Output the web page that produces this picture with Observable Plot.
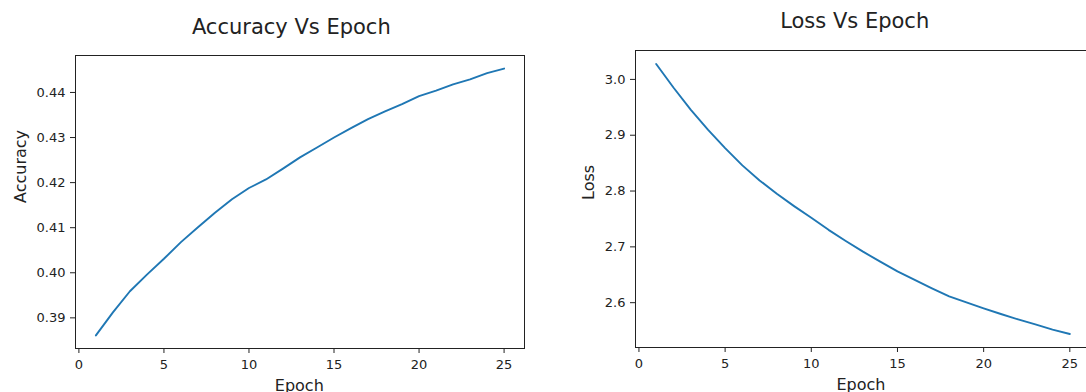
<!DOCTYPE html>
<html>
<head>
<meta charset="utf-8">
<script src="https://cdn.jsdelivr.net/npm/d3@7"></script>
<script src="https://cdn.jsdelivr.net/npm/@observablehq/plot@0.6"></script>
<style>
  html, body { margin: 0; padding: 0; background: #fff; overflow: hidden; }
  #wrap { position: relative; width: 1086px; height: 392px; overflow: hidden; }
  #wrap > div { position: absolute; top: 0; height: 392px; }
  #wrap svg { overflow: visible; max-width: none !important; }
  #wrap g[aria-label$="tick label"] { font-size: 13px !important; }
</style>
</head>
<body>
<div id="wrap"><div id="left" style="left:0;width:543px"></div><div id="right" style="left:543px;width:560px"></div></div>
<script>
const epochs = [1,2,3,4,5,6,7,8,9,10,11,12,13,14,15,16,17,18,19,20,21,22,23,24,25];
const accuracy = [0.3861,0.3912,0.3959,0.3996,0.4031,0.4068,0.4101,0.4133,0.4163,0.4188,0.4207,0.4231,0.4256,0.4278,0.4300,0.4321,0.4341,0.4358,0.4374,0.4392,0.4404,0.4418,0.4429,0.4443,0.4453];
const loss = [3.0276,2.9855,2.9460,2.9100,2.8770,2.8460,2.8190,2.7950,2.7730,2.7520,2.7305,2.7106,2.6914,2.6735,2.6560,2.6407,2.6257,2.6113,2.6005,2.5898,2.5797,2.5700,2.5610,2.5516,2.5439];
const xTicks = [0,5,10,15,20,25];
const accTicks = [0.39,0.40,0.41,0.42,0.43,0.44];
const lossTicks = [2.6,2.7,2.8,2.9,3.0];
const titles = ["Accuracy Vs Epoch", "Loss Vs Epoch"];
const yLabels = ["Accuracy", "Loss"];
const xLabel = "Epoch";

const accData = epochs.map((e, i) => ({epoch: e, value: accuracy[i]}));
const lossData = epochs.map((e, i) => ({epoch: e, value: loss[i]}));

const FONT = "DejaVu Sans, sans-serif";
const INK = "#222";

function panel({data, width, mL, mR, mT, mB, yDomain, yTicks, yFmt, title, titleDx, titleDy, yLabel, yLabDx, xLabDx}) {
  return Plot.plot({
    width, height: 392,
    marginLeft: mL, marginRight: mR, marginTop: mT, marginBottom: mB,
    style: {fontFamily: FONT, fontSize: "13px", color: INK, background: "transparent"},
    x: {domain: [-0.2, 26.2]},
    y: {domain: yDomain},
    marks: [
      Plot.axisX({ticks: xTicks, tickSize: 5, tickPadding: 6, fontSize: 13, label: null, stroke: INK}),
      Plot.axisY({ticks: yTicks, tickFormat: yFmt, tickSize: 5, tickPadding: 5, fontSize: 13, label: null, stroke: INK}),
      Plot.line(data, {x: "epoch", y: "value", stroke: "#1f77b4", strokeWidth: 1.9}),
      Plot.frame({stroke: INK, strokeWidth: 1}),
      Plot.text([title], {frameAnchor: "top", lineAnchor: "bottom", dx: titleDx, dy: titleDy, fontSize: 21, fill: INK}),
      Plot.text([xLabel], {frameAnchor: "bottom", lineAnchor: "bottom", dx: xLabDx, dy: 42, fontSize: 16, fill: INK}),
      Plot.text([yLabel], {frameAnchor: "left", lineAnchor: "bottom", rotate: -90, dx: yLabDx, dy: 1, fontSize: 16, fill: INK})
    ]
  });
}

document.getElementById("left").append(panel({
  data: accData, width: 543, mL: 75, mR: 19, mT: 55, mB: 44,
  yDomain: [0.3832, 0.4482], yTicks: accTicks, yFmt: d3.format(".2f"),
  title: titles[0], titleDx: -8.7, titleDy: -22,
  yLabel: yLabels[0], yLabDx: -50, xLabDx: -0.7
}));

document.getElementById("right").append(panel({
  data: lossData, width: 560, mL: 92, mR: 13, mT: 50, mB: 45,
  yDomain: [2.5197, 3.0518], yTicks: lossTicks, yFmt: d3.format(".1f"),
  title: titles[1], titleDx: -8.3, titleDy: -22.7,
  yLabel: yLabels[1], yLabDx: -41.7, xLabDx: -2
}));
</script>
</body>
</html>
